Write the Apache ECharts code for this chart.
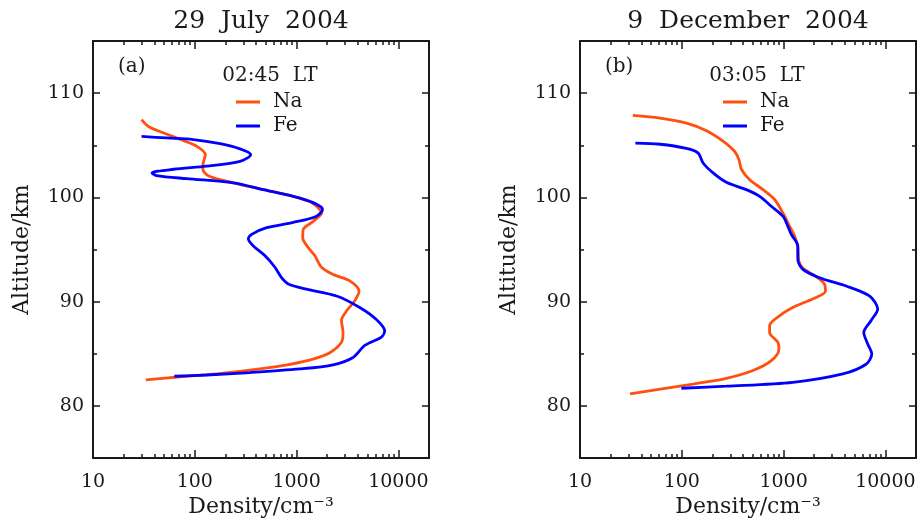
<!DOCTYPE html>
<html>
<head>
<meta charset="utf-8">
<script src="https://cdn.jsdelivr.net/npm/echarts@6/dist/echarts.min.js"></script>
<style>
html, body { margin: 0; padding: 0; background: #fff; }
#chart { width: 919px; height: 523px; }
</style>
</head>
<body>
<div id="chart"></div>
<script>
var titles = ['29  July  2004', '9  December  2004'];
var panelTags = ['(a)', '(b)'];
var localTimes = ['02:45  LT', '03:05  LT'];
var seriesNames = ['Na', 'Fe'];

var xTickValues = [10, 100, 1000, 10000];
var xMinorValues = [20, 30, 40, 50, 60, 70, 80, 90, 200, 300, 400, 500, 600, 700, 800, 900,
	2000, 3000, 4000, 5000, 6000, 7000, 8000, 9000];
var yTickValues = [80, 90, 100, 110];
var yMinorValues = [85, 95, 105];

// (a) 29 July 2004
var naA_alt = [107.45, 106.8, 106.2, 105.5, 104.9, 104.1, 103.3, 102.7, 102.0, 101.4, 100.75, 100.1, 99.5, 98.5, 97.7,
	96.9, 96.1, 95.2, 94.4, 93.3, 92.6, 92.0, 91.0, 90.1, 89.1, 88.2, 87.05, 86.1, 85.1, 84.5, 84.0, 83.55, 83.07, 82.8, 82.5];
var naA_dens = [30, 35, 49, 75, 105, 127, 121, 120, 141, 239, 471, 927, 1400, 1760, 1455,
	1160, 1150, 1300, 1515, 1760, 2290, 3330, 4110, 3730, 3090, 2760, 2860, 2760, 2120, 1455, 860, 437, 164, 72, 33];
var feA_alt = [105.85, 105.7, 105.55, 105.15, 104.65, 104.1, 103.45, 103.0, 102.7, 102.35, 102.1, 101.8, 101.4, 100.75, 100.1,
	99.5, 98.85, 98.2, 97.6, 97.1, 96.45, 96.0, 95.35, 94.4, 93.3, 92.3, 91.7, 91.2, 90.55, 89.45,
	88.3, 87.2, 86.6, 85.8, 84.65, 83.95, 83.55, 83.2, 82.97, 82.85];
var feA_dens = [30, 53, 97, 177, 278, 354, 278, 131, 62, 38, 42, 83, 239, 471, 927,
	1455, 1800, 1570, 927, 508, 362, 336, 376, 490, 613, 712, 828, 1250, 2470, 4170,
	6080, 7340, 6810, 4680, 3590, 2290, 1075, 348, 131, 63];

// (b) 9 December 2004
var naB_alt = [107.86, 107.6, 107.13, 106.4, 105.4, 104.4, 103.6, 102.7, 101.7, 100.75, 99.8, 98.5, 97.25, 96.3, 95.2,
	93.9, 93.2, 92.5, 91.7, 91.0, 90.4, 89.6, 88.65, 87.7, 87.05, 86.1, 85.45, 84.35, 83.4, 82.65, 82.1, 81.7, 81.15];
var naB_dens = [33, 61, 111, 175, 254, 331, 365, 385, 464, 627, 817, 985, 1145, 1282, 1380,
	1412, 1550, 2015, 2520, 2580, 2090, 1330, 912, 729, 729, 880, 900, 757, 500, 274, 129, 71, 31];
var feB_alt = [105.2, 105.1, 104.7, 104.25, 103.3, 102.35, 101.45, 100.75, 100.1, 99.15, 98.2, 97.25, 96.45, 95.35, 94.05,
	93.1, 92.3, 91.5, 90.55, 89.3, 88.2, 87.05, 85.95, 84.98, 84.0, 83.07, 82.27, 81.9, 81.7];
var feB_dens = [35, 61, 111, 145, 162, 203, 274, 430, 582, 757, 985, 1100, 1190, 1380, 1380,
	1550, 2255, 4120, 6970, 8410, 7250, 6140, 6710, 7350, 6460, 3820, 1235, 274, 99];

var FONT = "'DejaVu Serif', serif";
var INK = '#1a1a1a';
var NA_COLOR = '#ff5010';
var FE_COLOR = '#0000ff';

function pairs(dens, alt) {
	return dens.map(function (d, i) { return [d, alt[i]]; });
}

var panels = [
	{ left: 93, center: 261, na: pairs(naA_dens, naA_alt), fe: pairs(feA_dens, feA_alt) },
	{ left: 580, center: 748, na: pairs(naB_dens, naB_alt), fe: pairs(feB_dens, feB_alt) }
];

var frame = { color: INK, width: 2 };
var tickStyle = { color: INK, width: 1.5 };
var LOGMIN = Math.log10(xTickValues[0]);
var LOGMAX = Math.log10(20000);

var grid = [], xAxis = [], yAxis = [], series = [], legend = [], graphic = [];

panels.forEach(function (p, g) {
	grid.push({ left: p.left, width: 336, top: 41, height: 418 });

	var xBase = xAxis.length;
	// data axis (log)
	xAxis.push({ type: 'log', logBase: 10, gridIndex: g, min: 10, max: 20000, show: false });
	// bottom, one tick + label per decade (log10 space)
	xAxis.push({
		type: 'value', gridIndex: g, position: 'bottom', min: LOGMIN, max: LOGMAX, interval: 1,
		axisLine: { show: true, lineStyle: frame },
		axisTick: { show: true, inside: true, length: 8, lineStyle: tickStyle },
		axisLabel: {
			margin: 14, showMaxLabel: false,
			color: INK, fontSize: 19, fontFamily: FONT,
			formatter: function (v) { return String(Math.round(Math.pow(10, v))); }
		},
		splitLine: { show: false },
		name: 'Density/cm⁻³', nameLocation: 'middle', nameGap: 37,
		nameTextStyle: { color: INK, fontSize: 22, fontFamily: FONT }
	});
	// bottom minor
	xAxis.push({
		type: 'value', gridIndex: g, position: 'bottom', min: LOGMIN, max: LOGMAX,
		axisLine: { show: false },
		axisTick: { show: true, inside: true, length: 4, lineStyle: tickStyle, customValues: xMinorValues.map(Math.log10) },
		axisLabel: { show: false }, splitLine: { show: false }
	});
	// top major
	xAxis.push({
		type: 'value', gridIndex: g, position: 'top', min: LOGMIN, max: LOGMAX, interval: 1,
		axisLine: { show: true, lineStyle: frame },
		axisTick: { show: true, inside: true, length: 8, lineStyle: tickStyle },
		axisLabel: { show: false }, splitLine: { show: false }
	});
	// top minor
	xAxis.push({
		type: 'value', gridIndex: g, position: 'top', min: LOGMIN, max: LOGMAX,
		axisLine: { show: false },
		axisTick: { show: true, inside: true, length: 4, lineStyle: tickStyle, customValues: xMinorValues.map(Math.log10) },
		axisLabel: { show: false }, splitLine: { show: false }
	});

	var yBase = yAxis.length;
	yAxis.push({
		type: 'value', gridIndex: g, position: 'left', min: 75, max: 115,
		axisLine: { show: true, lineStyle: frame },
		axisTick: { show: true, inside: true, length: 7, lineStyle: tickStyle, customValues: yTickValues },
		axisLabel: { customValues: yTickValues, margin: 9, color: INK, fontSize: 19, fontFamily: FONT },
		splitLine: { show: false },
		name: 'Altitude/km', nameLocation: 'middle', nameGap: 60,
		nameTextStyle: { color: INK, fontSize: 22, fontFamily: FONT }
	});
	yAxis.push({
		type: 'value', gridIndex: g, position: 'left', min: 75, max: 115,
		axisLine: { show: false },
		axisTick: { show: true, inside: true, length: 4, lineStyle: tickStyle, customValues: yMinorValues },
		axisLabel: { show: false }, splitLine: { show: false }
	});
	yAxis.push({
		type: 'value', gridIndex: g, position: 'right', min: 75, max: 115,
		axisLine: { show: true, lineStyle: frame },
		axisTick: { show: true, inside: true, length: 7, lineStyle: tickStyle, customValues: yTickValues },
		axisLabel: { show: false }, splitLine: { show: false }
	});
	yAxis.push({
		type: 'value', gridIndex: g, position: 'right', min: 75, max: 115,
		axisLine: { show: false },
		axisTick: { show: true, inside: true, length: 4, lineStyle: tickStyle, customValues: yMinorValues },
		axisLabel: { show: false }, splitLine: { show: false }
	});

	[[p.na, NA_COLOR, 'Na'], [p.fe, FE_COLOR, 'Fe']].forEach(function (s) {
		series.push({
			name: s[2], type: 'line', xAxisIndex: xBase, yAxisIndex: yBase,
			data: s[0], symbol: 'none', smooth: 0.3,
			lineStyle: { color: s[1], width: 2.8 },
			itemStyle: { color: s[1] }
		});
	});

	legend.push({
		left: p.left + 143, top: 92, padding: 0, orient: 'vertical', data: seriesNames,
		icon: 'rect', itemWidth: 24, itemHeight: 3, itemGap: 4, selectedMode: false,
		textStyle: { color: INK, fontSize: 20, fontFamily: FONT, padding: [0, 0, 0, 8] }
	});

	graphic.push({ type: 'text', x: p.center, y: 21,
		style: { text: titles[g], fill: INK, font: '25px ' + FONT, align: 'center', verticalAlign: 'middle' } });
	graphic.push({ type: 'text', x: p.left + 25, y: 67,
		style: { text: panelTags[g], fill: INK, font: '20px ' + FONT, align: 'left', verticalAlign: 'middle' } });
	graphic.push({ type: 'text', x: p.left + 177, y: 76,
		style: { text: localTimes[g], fill: INK, font: '20px ' + FONT, align: 'center', verticalAlign: 'middle' } });
});

var myChart = echarts.init(document.getElementById('chart'));
var option = {
	backgroundColor: '#fff',
	animation: false,
	grid: grid,
	xAxis: xAxis,
	yAxis: yAxis,
	legend: legend,
	graphic: graphic,
	series: series
};
myChart.setOption(option);
</script>
</body>
</html>
